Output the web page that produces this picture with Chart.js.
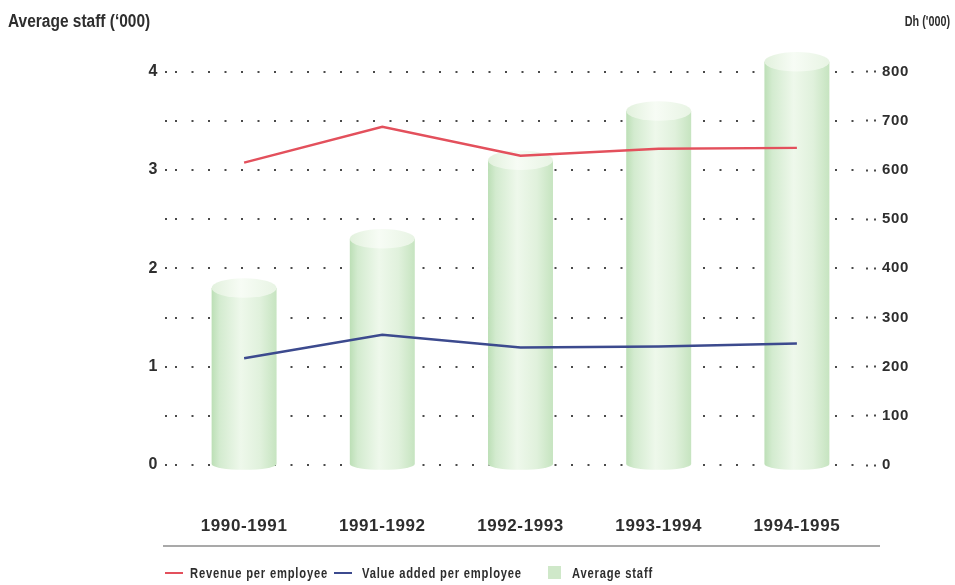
<!DOCTYPE html>
<html>
<head>
<meta charset="utf-8">
<title>Average staff and productivity</title>
<script src="https://cdn.jsdelivr.net/npm/chart.js@4/dist/chart.umd.min.js"></script>
<style>
  html, body { margin: 0; padding: 0; background: #ffffff; }
  #wrap { position: relative; width: 955px; height: 585px; overflow: hidden; }
  #chart { position: absolute; left: 0; top: 0; }
  #legend {
    position: absolute; left: 0; top: 564px; width: 955px; height: 18px;
    font-family: 'Liberation Sans', Arial, sans-serif;
    font-weight: bold; font-size: 14px; letter-spacing: 1px;
    color: #2e2e2e; white-space: nowrap;
  }
  #legend .sw { position: absolute; }
  #legend .line { top: 8px; width: 18px; height: 2px; }
  #legend .box { top: 2px; width: 13px; height: 13px; }
  #legend .tx { position: absolute; top: 0; line-height: 18px; transform-origin: 0 50%; }
</style>
</head>
<body>
<div id="wrap">
  <canvas id="chart" width="955" height="585"></canvas>
  <div id="legend"></div>
</div>
<script>
// Financial years
const categories = ['1990-1991', '1991-1992', '1992-1993', '1993-1994', '1994-1995'];
// Average staff, thousands (left axis, cylinders)
const averageStaff = [1.8, 2.3, 3.1, 3.6, 4.1];
// Dh thousands per employee (right axis, lines)
const revenuePerEmployee = [615, 688, 629, 643, 645];
const valueAddedPerEmployee = [217, 265, 239, 241, 247];
// Axis ticks
const staffTicks = [0, 0.5, 1, 1.5, 2, 2.5, 3, 3.5, 4];
const dhTicks = [0, 100, 200, 300, 400, 500, 600, 700, 800];

const FONT = "'Liberation Sans', Arial, sans-serif";
const TEXT = '#2e2e2e';
const DOT = '#4a4a4a';
const BAR_PCT = 0.47;

function barGradient(ctx, left, right) {
  const g = ctx.createLinearGradient(left, 0, right, 0);
  g.addColorStop(0.00, '#bcdfb6');
  g.addColorStop(0.12, '#d3ebcf');
  g.addColorStop(0.45, '#eef8eb');
  g.addColorStop(0.75, '#e0f1dc');
  g.addColorStop(1.00, '#c6e4c0');
  return g;
}
function capGradient(ctx, left, right) {
  const g = ctx.createLinearGradient(left, 0, right, 0);
  g.addColorStop(0.00, '#e2f1dd');
  g.addColorStop(0.45, '#f7fcf5');
  g.addColorStop(1.00, '#e8f4e4');
  return g;
}

function barColor(c) {
  const chart = c.chart;
  const area = chart.chartArea;
  const xs = chart.scales.x;
  if (!area || !xs || c.type !== 'data') return '#d8eed3';
  const cx = xs.getPixelForValue(c.dataIndex);
  const w = (area.right - area.left) / categories.length * BAR_PCT;
  return barGradient(chart.ctx, cx - w / 2, cx + w / 2);
}

// Rounded cylinder ends: bottom half-ellipse and lit top cap
const cylinderCaps = {
  id: 'cylinderCaps',
  afterDatasetDraw(chart, args) {
    if (chart.data.datasets[args.index].type !== 'bar') return;
    const ctx = chart.ctx;
    args.meta.data.forEach((el) => {
      const p = el.getProps(['x', 'y', 'base', 'width'], true);
      const rx = p.width / 2;
      const ry = p.width * 0.15;
      const l = p.x - rx, r = p.x + rx;
      ctx.save();
      ctx.beginPath();
      ctx.ellipse(p.x, p.base, rx, ry * 0.6, 0, 0, Math.PI);
      ctx.closePath();
      ctx.fillStyle = barGradient(ctx, l, r);
      ctx.fill();
      ctx.beginPath();
      ctx.ellipse(p.x, p.y, rx, ry, 0, 0, Math.PI * 2);
      ctx.fillStyle = capGradient(ctx, l, r);
      ctx.fill();
      ctx.restore();
    });
  }
};

// Narrow bold heading text, squeezed horizontally from a given anchor
function narrowText(ctx, text, x, y, size, squeeze, align) {
  ctx.save();
  ctx.font = 'bold ' + size + 'px ' + FONT;
  ctx.letterSpacing = '0px';
  ctx.textBaseline = 'middle';
  ctx.textAlign = align;
  ctx.translate(x, y);
  ctx.scale(squeeze, 1);
  ctx.fillText(text, 0, 0);
  ctx.restore();
}

// Axis headings above the scales and the rule under the year labels
const frameText = {
  id: 'frameText',
  beforeDraw(chart) {
    chart.ctx.letterSpacing = '0.6px';
  },
  afterDraw(chart) {
    const ctx = chart.ctx;
    const y = chart.scales.y, y1 = chart.scales.y1, area = chart.chartArea;
    ctx.save();
    ctx.fillStyle = TEXT;
    narrowText(ctx, 'Average staff (\u2018000)', 8, 22, 18, 0.86, 'left');
    narrowText(ctx, "Dh ('000)", 950, 22, 15, 0.72, 'right');
    ctx.beginPath();
    ctx.moveTo(y.right - 12, area.bottom + 81);
    ctx.lineTo(y1.left + 14, area.bottom + 81);
    ctx.strokeStyle = '#555555';
    ctx.lineWidth = 1.2;
    ctx.stroke();
    ctx.restore();
  }
};

const chart = new Chart(document.getElementById('chart'), {
  data: {
    labels: categories,
    datasets: [
      {
        type: 'line',
        label: 'Revenue per employee',
        data: revenuePerEmployee,
        yAxisID: 'y1',
        borderColor: '#e3505c',
        backgroundColor: '#e3505c',
        borderWidth: 2.5,
        pointRadius: 0,
        tension: 0,
        order: 0
      },
      {
        type: 'line',
        label: 'Value added per employee',
        data: valueAddedPerEmployee,
        yAxisID: 'y1',
        borderColor: '#3c4a8e',
        backgroundColor: '#3c4a8e',
        borderWidth: 2.5,
        pointRadius: 0,
        tension: 0,
        order: 1
      },
      {
        type: 'bar',
        label: 'Average staff',
        data: averageStaff,
        yAxisID: 'y',
        backgroundColor: barColor,
        borderWidth: 0,
        categoryPercentage: 1,
        barPercentage: BAR_PCT,
        order: 2
      }
    ]
  },
  options: {
    responsive: false,
    animation: false,
    events: [],
    layout: { padding: { top: 52, left: 0, right: 0, bottom: 0 } },
    plugins: { legend: { display: false }, tooltip: { enabled: false } },
    scales: {
      x: {
        offset: true,
        grid: { display: false, drawTicks: false },
        border: { display: false },
        ticks: { color: TEXT, padding: 51, font: { family: FONT, size: 17, weight: 'bold' } },
        afterFit(s) { s.height = 120; }
      },
      y: {
        position: 'left',
        min: 0,
        max: 4.2,
        afterBuildTicks(s) { s.ticks = staffTicks.map(v => ({ value: v })); },
        ticks: {
          color: TEXT, padding: 7,
          font: { family: FONT, size: 16, weight: 'bold' },
          callback: (v) => Number.isInteger(v) ? String(v) : ''
        },
        grid: {
          color: DOT, lineWidth: 2, drawTicks: true, tickLength: 10,
          tickColor: DOT, tickWidth: 2, tickBorderDash: [2, 14.5]
        },
        border: { display: false, dash: [2, 14.5] },
        afterFit(s) { s.width = 175; }
      },
      y1: {
        position: 'right',
        min: 0,
        max: 840,
        afterBuildTicks(s) { s.ticks = dhTicks.map(v => ({ value: v })); },
        ticks: {
          color: TEXT, padding: 6,
          font: { family: FONT, size: 15, weight: 'bold' },
          callback: (v) => String(v)
        },
        grid: {
          drawOnChartArea: false, drawTicks: true, tickLength: 10,
          tickColor: DOT, tickWidth: 2, tickBorderDash: [2, 6]
        },
        border: { display: false },
        afterFit(s) { s.width = 89; }
      }
    }
  },
  plugins: [cylinderCaps, frameText]
});

// Legend built from the chart's datasets, in dataset order
const legendEl = document.getElementById('legend');
const legendSwatchX = [165, 334, 548];
const legendTextGap = [25, 28, 24];
chart.data.datasets.forEach((ds, i) => {
  const sw = document.createElement('span');
  if (ds.type === 'line') {
    sw.className = 'sw line';
    sw.style.background = ds.borderColor;
  } else {
    sw.className = 'sw box';
    sw.style.background = '#cfe8c9';
  }
  sw.style.left = legendSwatchX[i] + 'px';
  const tx = document.createElement('span');
  tx.className = 'tx';
  tx.textContent = ds.label;
  tx.style.left = (legendSwatchX[i] + legendTextGap[i]) + 'px';
  tx.style.transform = 'scaleX(0.8)';
  legendEl.appendChild(sw);
  legendEl.appendChild(tx);
});
</script>
</body>
</html>
